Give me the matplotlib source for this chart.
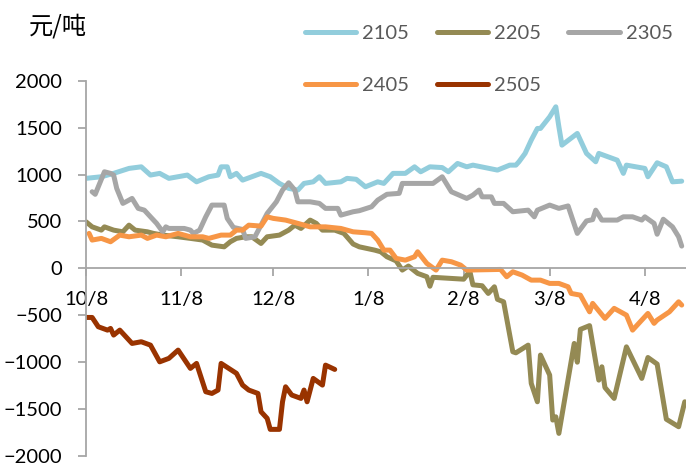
import numpy as np
import matplotlib
matplotlib.use("Agg")
import matplotlib.pyplot as plt
import matplotlib.dates as mdates

# Season start: every series is plotted against days since 10/8
START = np.datetime64("2022-10-08")

tick_dates = ["2022-10-08", "2022-11-08", "2022-12-08", "2023-01-08",
              "2023-02-08", "2023-03-08", "2023-04-08"]
tick_labels = ["10/8", "11/8", "12/8", "1/8", "2/8", "3/8", "4/8"]

days_2105 = [0, 5, 9, 14, 18, 21, 24, 27, 33, 36, 40, 43, 44, 46, 47, 49, 51, 54, 57, 60,
             63, 66, 69, 71, 74, 76, 78, 83, 85, 88, 91, 95, 97, 100, 104, 107, 109, 112,
             116, 118, 121, 124, 126, 134, 138, 140, 141, 143, 145, 147, 148, 151, 153,
             154, 155, 160, 163, 166, 167, 173, 175, 176, 182, 183, 186, 189, 191, 194]
vals_2105 = [960, 977, 1013, 1066, 1083, 995, 1013, 960, 995, 923, 977, 995, 1083, 1083,
             977, 1013, 941, 977, 1013, 977, 906, 853, 835, 906, 923, 977, 906, 923, 960,
             950, 870, 923, 906, 1013, 1013, 1083, 1030, 1083, 1075, 1030, 1119, 1083,
             1101, 1048, 1101, 1101, 1137, 1226, 1368, 1492, 1492, 1616, 1723, 1510, 1314,
             1439, 1226, 1137, 1226, 1154, 1013, 1101, 1066, 977, 1126, 1083, 923, 930]

days_2205 = [0, 2, 5, 6, 9, 12, 14, 16, 20, 22, 25, 30, 34, 38, 41, 45, 47, 49, 52, 54,
             57, 59, 63, 66, 68, 70, 73, 75, 77, 81, 84, 87, 89, 94, 96, 98, 101, 103,
             105, 108, 111, 112, 113, 123, 125, 126, 129, 131, 133, 134, 136, 139, 140,
             144, 145, 147, 148, 151, 152, 153, 154, 159, 160, 161, 164, 167, 168, 169,
             172, 176, 181, 183, 186, 189, 193, 195]
vals_2205 = [497, 443, 408, 443, 408, 390, 461, 408, 390, 373, 355, 337, 320, 302, 248,
             230, 284, 320, 337, 337, 266, 337, 355, 408, 461, 426, 515, 480, 408, 408,
             373, 260, 230, 195, 177, 124, 80, -18, 25, -53, -89, -190, -95, -115, -30,
             -175, -185, -267, -196, -330, -356, -889, -900, -818, -1226, -1422, -924,
             -1137, -1617, -1582, -1759, -800, -1000, -650, -610, -1191, -1049, -1270,
             -1386, -836, -1173, -950, -1020, -1608, -1688, -1422]

days_2305 = [2, 3, 6, 8, 9, 10, 12, 13, 15, 17, 19, 21, 23, 25, 26, 27, 32, 34, 35, 37,
             39, 41, 45, 46, 48, 51, 52, 55, 57, 59, 62, 64, 66, 68, 69, 73, 76, 78, 82,
             83, 87, 89, 93, 95, 98, 102, 103, 113, 116, 119, 124, 126, 128, 129, 132,
             133, 136, 139, 144, 146, 147, 151, 154, 157, 160, 163, 165, 166, 168, 173,
             175, 178, 181, 182, 185, 186, 188, 191, 193, 194]
vals_2305 = [817, 790, 1030, 1013, 995, 853, 693, 710, 746, 640, 621, 550, 480, 390, 443,
             426, 426, 408, 373, 408, 550, 675, 675, 533, 437, 415, 320, 337, 461, 586,
             710, 835, 913, 835, 710, 710, 693, 640, 640, 568, 604, 615, 657, 728, 790,
             800, 906, 906, 977, 817, 746, 781, 835, 763, 763, 693, 693, 604, 621, 550,
             621, 675, 640, 666, 373, 506, 520, 621, 515, 515, 550, 550, 515, 550, 480,
             364, 524, 443, 337, 238]

days_2405 = [1, 2, 5, 8, 11, 14, 18, 20, 23, 26, 30, 34, 38, 40, 44, 47, 49, 51, 53, 57,
             59, 61, 65, 69, 73, 78, 83, 87, 91, 93, 95, 97, 99, 101, 104, 107, 108, 111,
             114, 116, 119, 122, 124, 135, 137, 139, 142, 145, 148, 151, 154, 157, 158,
             161, 164, 165, 169, 170, 172, 176, 178, 181, 183, 185, 186, 190, 193, 194]
vals_2405 = [373, 302, 320, 284, 355, 337, 355, 320, 355, 337, 373, 337, 337, 320, 355,
             355, 408, 408, 461, 451, 550, 533, 515, 480, 443, 443, 426, 390, 380, 373,
             302, 195, 195, 107, 88, 124, 177, 53, -18, 88, 71, 35, -18, -11, -89, -36,
             -71, -125, -125, -160, -160, -196, -267, -285, -463, -373, -533, -498, -426,
             -498, -658, -551, -480, -586, -551, -463, -356, -391]

days_2505 = [0, 2, 4, 7, 8, 9, 11, 15, 18, 21, 24, 27, 30, 34, 36, 39, 41, 43, 44, 49,
             51, 53, 56, 57, 59, 60, 63, 64, 65, 67, 70, 71, 72, 74, 77, 78, 81]
vals_2505 = [-523, -523, -622, -658, -640, -711, -658, -800, -782, -818, -996, -959, -871,
             -1066, -1013, -1315, -1333, -1297, -1013, -1119, -1244, -1297, -1333, -1528,
             -1599, -1716, -1716, -1422, -1262, -1350, -1386, -1297, -1422, -1173, -1244,
             -1031, -1077]

series = [
    ("2105", days_2105, vals_2105, "#92CDDC"),
    ("2205", days_2205, vals_2205, "#948A54"),
    ("2305", days_2305, vals_2305, "#A6A6A6"),
    ("2405", days_2405, vals_2405, "#F79646"),
    ("2505", days_2505, vals_2505, "#993300"),
]

LATIN = ["Lato", "Noto Sans CJK SC", "DejaVu Sans"]
plt.rcParams["font.family"] = LATIN
AXIS_GRAY = "#A6A6A6"

fig = plt.figure(figsize=(6.86, 4.67), dpi=100)
ax = fig.add_axes([86 / 686, 11 / 467, 600 / 686, 375.2 / 467])

handles = {}
for name, days, vals, color in series:
    x = START + np.array(days) * np.timedelta64(1, "D")
    (ln,) = ax.plot(x, vals, color=color, lw=3.6, solid_joinstyle="round",
                    solid_capstyle="round", label=name)
    handles[name] = ln

x0 = mdates.date2num(START)
ax.set_xlim(x0, x0 + 195.4)
ax.set_ylim(-2000, 2000)
ax.set_yticks(np.arange(-2000, 2001, 500))
ax.set_xticks([mdates.date2num(np.datetime64(d)) for d in tick_dates])
ax.set_xticklabels(tick_labels)

for side in ("top", "right"):
    ax.spines[side].set_visible(False)
ax.spines["bottom"].set_position(("data", 0))
for side in ("left", "bottom"):
    ax.spines[side].set_color(AXIS_GRAY)
    ax.spines[side].set_linewidth(1.3)
ax.set_axisbelow(True)

ax.tick_params(axis="both", direction="out", length=5.5, width=1.3, color=AXIS_GRAY,
               labelsize=14.5, labelcolor="black")
ax.tick_params(axis="y", pad=11.5)
ax.tick_params(axis="x", pad=11)

order = ["2105", "2405", "2205", "2505", "2305"]
fig.legend([handles[k] for k in order], order, ncol=3, loc="upper left",
           bbox_to_anchor=(305 / 686, 1 - 25 / 467), frameon=False,
           handlelength=2.55, handletextpad=0.3, columnspacing=1.35,
           labelspacing=1.75, borderpad=0, borderaxespad=0, fontsize=14.5,
           labelcolor="#595959")

fig.text(29 / 686, 1 - 26 / 467, "元/吨", fontsize=17.5, va="center", ha="left",
         family=["Noto Sans CJK SC", "DejaVu Sans"], color="black")

fig.savefig("out.png", dpi=100)
